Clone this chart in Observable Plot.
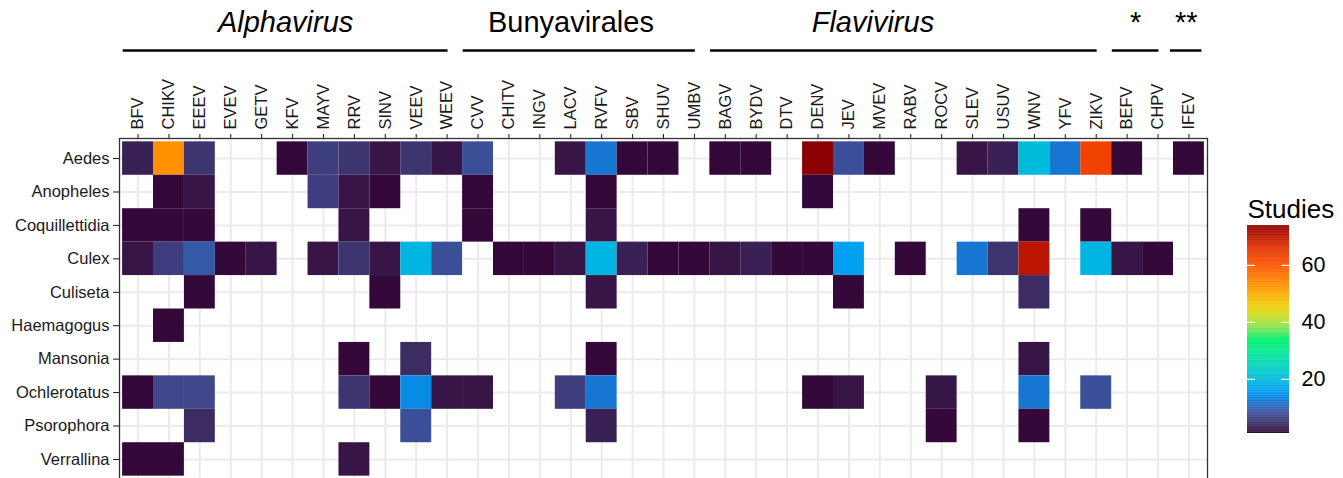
<!DOCTYPE html>
<html><head><meta charset="utf-8">
<script src="https://cdn.jsdelivr.net/npm/d3@7"></script>
<script src="https://cdn.jsdelivr.net/npm/@observablehq/plot@0.6"></script>
<style>
body{margin:0;background:#fff;font-family:"Liberation Sans", Arial, sans-serif;}
#wrap{position:relative;width:1343px;height:478px;overflow:hidden;}
#wrap svg{position:absolute;top:0;}
</style></head><body><div id="wrap"></div>
<script>
// ---- data ----
const viruses = ["BFV","CHIKV","EEEV","EVEV","GETV","KFV","MAYV","RRV","SINV","VEEV","WEEV",
  "CVV","CHITV","INGV","LACV","RVFV","SBV","SHUV","UMBV",
  "BAGV","BYDV","DTV","DENV","JEV","MVEV","RABV","ROCV","SLEV","USUV","WNV","YFV","ZIKV",
  "BEFV","CHPV","IFEV"];
const genera = ["Aedes","Anopheles","Coquillettidia","Culex","Culiseta","Haemagogus","Mansonia","Ochlerotatus","Psorophora","Verrallina"];

const groupNames = ["Alphavirus","Bunyavirales","Flavivirus","*","**"];
const groupFirst = ["BFV","CVV","BAGV","BEFV","IFEV"];
const groupLast  = ["WEEV","UMBV","ZIKV","CHPV","IFEV"];
const groupItalic = [true,false,true,false,false];

// number of studies per genus x virus
const aedes = {BFV:3,CHIKV:53,EEEV:5,KFV:1,MAYV:6,RRV:5,SINV:2,VEEV:5,WEEV:2,CVV:8,LACV:2,RVFV:12,SBV:1,SHUV:1,
  BAGV:1,BYDV:1,DENV:74,JEV:8,MVEV:1,SLEV:2,USUV:3,WNV:20,YFV:12,ZIKV:63,BEFV:1,IFEV:1};
const anopheles = {CHIKV:1,EEEV:2,MAYV:6,RRV:2,SINV:1,CVV:1,RVFV:1,DENV:1};
const coquillettidia = {BFV:1,CHIKV:1,EEEV:1,RRV:2,CVV:1,RVFV:2,WNV:1,ZIKV:1};
const culex = {BFV:2,CHIKV:6,EEEV:9,EVEV:1,GETV:2,MAYV:2,RRV:5,SINV:2,VEEV:19,WEEV:8,CHITV:1,INGV:1,LACV:2,RVFV:19,
  SBV:3,SHUV:1,UMBV:1,BAGV:2,BYDV:3,DTV:1,DENV:1,JEV:16,RABV:1,SLEV:12,USUV:5,WNV:70,ZIKV:19,BEFV:2,CHPV:1};
const culiseta = {EEEV:1,SINV:1,RVFV:2,JEV:1,WNV:4};
const haemagogus = {CHIKV:1};
const mansonia = {RRV:1,VEEV:4,RVFV:1,WNV:2};
const ochlerotatus = {BFV:1,CHIKV:7,EEEV:7,RRV:5,SINV:1,VEEV:14,WEEV:2,CVV:2,LACV:6,RVFV:12,DENV:1,JEV:2,ROCV:2,WNV:12,ZIKV:8};
const psorophora = {EEEV:4,VEEV:8,RVFV:3,ROCV:1,WNV:1};
const verrallina = {BFV:1,CHIKV:1,RRV:2};
const studiesByGenus = [aedes,anopheles,coquillettidia,culex,culiseta,haemagogus,mansonia,ochlerotatus,psorophora,verrallina];

const legendTicks = [20,40,60];
const studiesMin = 1, studiesMax = 74;

// ---- styles / layout ----
const FONT = "'Liberation Sans', Arial, Helvetica, sans-serif";
const colorStops = [1,4,7,10,13,16,20,25,30,34,37,41,45,50,55,60,66,70,74];
const colorRange = ["#34093a","#3c2c62","#3f468a","#2f62b4","#0a80e0","#00a0f0","#00bcdc","#00d6b8","#00ea88","#00f06a","#6ee65a","#bfe030","#ecd20a","#ffaa00","#ff7e00","#ff5400","#e23000","#bb1500","#8b0000"];
const labelShift = [0,-0.27,-1.0,0,0];
const xDomain = [-0.6, viruses.length - 0.4];
const colorScale = {type:"linear", domain: colorStops, range: colorRange, clamp: true};

const cells = [];
genera.forEach((g, yi) => {
  const row = studiesByGenus[yi];
  for (const v of Object.keys(row)) cells.push({genus: g, virus: v, xi: viruses.indexOf(v), yi, studies: row[v]});
});

const groups = groupNames.map((name, i) => {
  const a = viruses.indexOf(groupFirst[i]), b = viruses.indexOf(groupLast[i]);
  const single = a === b;
  const x1 = single ? a - 0.6 : a - 0.48;
  const x2 = single ? b + 0.42 : b + 0.03;
  return {name, italic: groupItalic[i], x1, x2, xm: (x1 + x2) / 2 + labelShift[i]};
});

const heat = Plot.plot({
  width: 1343, height: 479,
  marginLeft: 119, marginRight: 136, marginTop: 138, marginBottom: 0,
  style: {fontFamily: FONT, fontSize: "16.5px", color: "#1a1a1a", background: "transparent"},
  x: {domain: xDomain, axis: "top", ticks: d3.range(viruses.length), tickFormat: i => viruses[i],
      tickRotate: -90, tickSize: 5, tickPadding: 4, label: null},
  y: {domain: [genera.length - 0.4, -0.6], ticks: d3.range(genera.length), tickFormat: i => genera[i],
      tickSize: 6, tickPadding: 4, label: null},
  color: colorScale,
  marks: [
    Plot.ruleX(d3.range(viruses.length), {stroke: "#ebebeb", strokeWidth: 2}),
    Plot.ruleY(d3.range(genera.length), {stroke: "#ebebeb", strokeWidth: 2}),
    Plot.rect(cells, {x1: d => d.xi - 0.5, x2: d => d.xi + 0.5, y1: d => d.yi - 0.5, y2: d => d.yi + 0.5, fill: "studies"}),
    Plot.frame({stroke: "#333", strokeWidth: 1.3})
  ]
});

const header = Plot.plot({
  width: 1343, height: 62, marginLeft: 119, marginRight: 136, marginTop: 0, marginBottom: 0,
  style: {fontFamily: FONT, background: "transparent", color: "#000"},
  x: {domain: xDomain, axis: null},
  y: {domain: [0, 62], range: [0, 62], axis: null},
  marks: [
    Plot.ruleY(groups, {y: () => 50, x1: "x1", x2: "x2", stroke: "#000", strokeWidth: 2.4}),
    Plot.text(groups.filter(g => g.italic), {x: "xm", y: () => 31, text: "name", fontSize: 29, fontStyle: "italic", lineAnchor: "bottom", fill: "#000"}),
    Plot.text(groups.filter(g => !g.italic), {x: "xm", y: () => 31, text: "name", fontSize: 29, lineAnchor: "bottom", fill: "#000"})
  ]
});

const legendVals = d3.range(studiesMin, studiesMax, 0.25);
const legend = Plot.plot({
  width: 103, height: 478, marginLeft: 7, marginRight: 54, marginTop: 225, marginBottom: 45,
  style: {fontFamily: FONT, background: "transparent", color: "#000"},
  x: {domain: [0, 1], axis: null},
  y: {domain: [studiesMin, studiesMax], axis: null},
  color: colorScale,
  marks: [
    Plot.rect(legendVals, {x1: () => 0, x2: () => 1, y1: d => d, y2: d => Math.min(d + 0.35, studiesMax), fill: d => d}),
    Plot.ruleY(legendTicks, {x1: () => 0, x2: () => 0.19, stroke: "white", strokeWidth: 1.2}),
    Plot.ruleY(legendTicks, {x1: () => 0.81, x2: () => 1, stroke: "white", strokeWidth: 1.2}),
    Plot.text(legendTicks, {x: () => 1, y: d => d, dx: 12, textAnchor: "start", fontSize: 21.5, text: d => String(d), fill: "#000"}),
    Plot.text(["Studies"], {frameAnchor: "top-left", dy: -26, textAnchor: "start", fontSize: 26, text: d => d, fill: "#000"})
  ]
});

const wrap = document.getElementById("wrap");
heat.style.left = "0px";
header.style.left = "0px";
legend.style.left = "1240px";
wrap.appendChild(heat);
wrap.appendChild(header);
wrap.appendChild(legend);
</script></body></html>
